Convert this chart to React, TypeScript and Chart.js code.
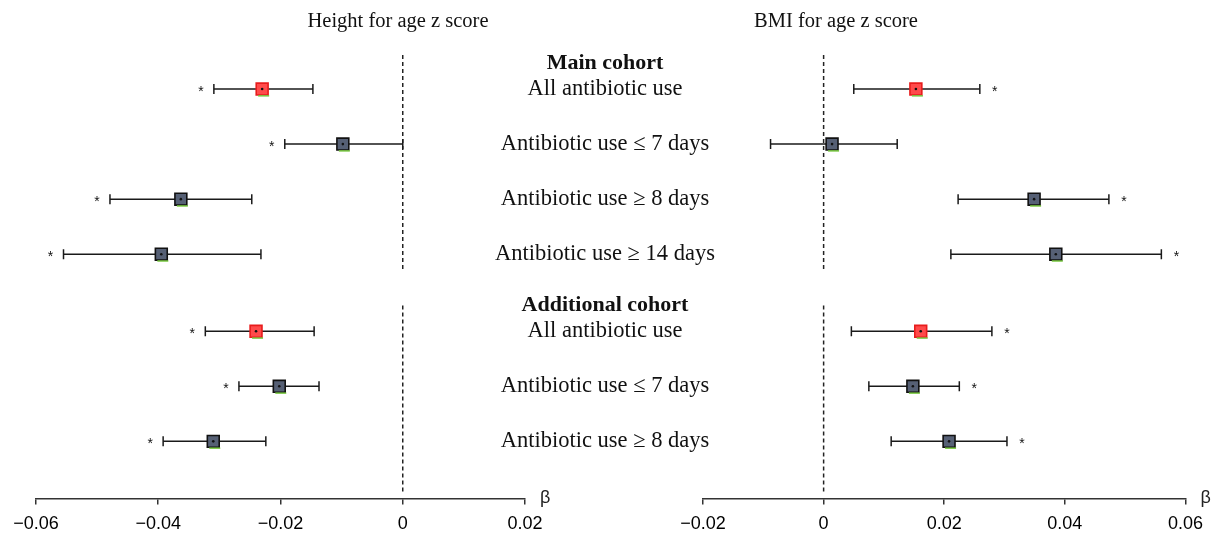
import React, { useEffect, useRef } from "react";
import { Chart, registerables } from "chart.js";
Chart.register(...registerables);

const categories = [
  "All antibiotic use",
  "Antibiotic use ≤ 7 days",
  "Antibiotic use ≥ 8 days",
  "Antibiotic use ≥ 14 days",
  "All antibiotic use",
  "Antibiotic use ≤ 7 days",
  "Antibiotic use ≥ 8 days",
];
const groups = ["Main cohort", "Additional cohort"];
const groupOf = [0, 0, 0, 0, 1, 1, 1];
const isAllUse = [true, false, false, false, true, false, false];

const hazEst = [-0.023, -0.0098, -0.0363, -0.0395, -0.024, -0.0202, -0.031];
const hazLow = [-0.0309, -0.0193, -0.0479, -0.0555, -0.0323, -0.0268, -0.0392];
const hazHigh = [-0.0147, 0.0, -0.0247, -0.0232, -0.0145, -0.0137, -0.0224];
const hazSig = [true, true, true, true, true, true, true];

const bmiEst = [0.0153, 0.0014, 0.0349, 0.0385, 0.0161, 0.0148, 0.0208];
const bmiLow = [0.005, -0.0088, 0.0223, 0.0211, 0.0046, 0.0075, 0.0112];
const bmiHigh = [0.0259, 0.0122, 0.0473, 0.056, 0.0279, 0.0225, 0.0304];
const bmiSig = [true, false, true, true, true, true, true];

const hazTicks = [-0.06, -0.04, -0.02, 0, 0.02];
const hazTickLabels = ["−0.06", "−0.04", "−0.02", "0", "0.02"];
const bmiTicks = [-0.02, 0, 0.02, 0.04, 0.06];
const bmiTickLabels = ["−0.02", "0", "0.02", "0.04", "0.06"];

const titles = ["Height for age z score", "BMI for age z score"];

const W = 1212;
const H = 537;
const GROUP_GAP = 0.4;
const rowPos = (i: number) => i + 1 + groupOf[i] * GROUP_GAP;
const Y_MAX = 8.436;
const zeroSegments = [
  [0.38, 4.3],
  [4.93, 8.36],
];

const SERIF = "'Liberation Serif', 'Times New Roman', serif";
const SANS = "'Liberation Sans', Arial, sans-serif";

function buildConfig(panel: 0 | 1): any {
  const est = panel === 0 ? hazEst : bmiEst;
  const low = panel === 0 ? hazLow : bmiLow;
  const high = panel === 0 ? hazHigh : bmiHigh;
  const sig = panel === 0 ? hazSig : bmiSig;
  const ticks = panel === 0 ? hazTicks : bmiTicks;
  const tickLabels = panel === 0 ? hazTickLabels : bmiTickLabels;

  const datasets: any[] = [];
  // center dots
  datasets.push({
    data: est.map((v, i) => ({ x: v, y: rowPos(i) })),
    pointStyle: "circle",
    pointRadius: 1.3,
    pointBackgroundColor: "#111",
    pointBorderWidth: 0,
    order: 0,
  });
  // markers
  datasets.push({
    data: est.map((v, i) => ({ x: v, y: rowPos(i) })),
    pointStyle: "rect",
    pointRadius: 8.4,
    pointBackgroundColor: est.map((_, i) => (isAllUse[i] ? "#ff4a4a" : "#566075")),
    pointBorderColor: est.map((_, i) => (isAllUse[i] ? "#e81c1c" : "#111111")),
    pointBorderWidth: 1.6,
    order: 1,
  });
  // error bars
  est.forEach((_, i) => {
    datasets.push({
      data: [
        { x: low[i], y: rowPos(i) },
        { x: high[i], y: rowPos(i) },
      ],
      showLine: true,
      borderColor: "#1a1a1a",
      borderWidth: 1.5,
      pointStyle: "line",
      rotation: 90,
      pointRadius: 5,
      pointBorderColor: "#1a1a1a",
      pointBorderWidth: 1.5,
      order: 2,
    });
  });
  // dashed zero line
  zeroSegments.forEach((seg) => {
    datasets.push({
      data: [
        { x: 0, y: seg[0] },
        { x: 0, y: seg[1] },
      ],
      showLine: true,
      borderColor: "#222",
      borderWidth: 1.5,
      borderDash: [4, 3],
      pointRadius: 0,
      order: 3,
    });
  });

  const extrasPlugin = {
    id: "extras" + panel,
    afterDatasetsDraw(chart: any) {
      const { ctx, chartArea, scales } = chart;
      const xs = scales.x;
      const ys = scales.y;
      ctx.save();
      // green shadows under markers
      const meta = chart.getDatasetMeta(1);
      ctx.strokeStyle = "#78c840";
      ctx.lineWidth = 1.5;
      meta.data.forEach((pt: any) => {
        ctx.beginPath();
        ctx.moveTo(pt.x - 4, pt.y + 6.8);
        ctx.lineTo(pt.x + 7, pt.y + 6.8);
        ctx.stroke();
      });
      // asterisks
      ctx.fillStyle = "#111";
      ctx.font = `14px ${SANS}`;
      ctx.textAlign = "center";
      ctx.textBaseline = "middle";
      sig.forEach((s, i) => {
        if (!s) return;
        const y = ys.getPixelForValue(rowPos(i)) + 3;
        const x = panel === 0 ? xs.getPixelForValue(low[i]) - 13 : xs.getPixelForValue(high[i]) + 15;
        ctx.fillText("*", x, y);
      });
      // beta label
      ctx.font = `18px ${SANS}`;
      ctx.fillStyle = "#222";
      ctx.textAlign = "left";
      ctx.fillText("β", chartArea.right + 15, chartArea.bottom);
      // title
      ctx.font = `20.5px ${SERIF}`;
      ctx.fillStyle = "#111";
      ctx.textAlign = "center";
      ctx.fillText(titles[panel], panel === 0 ? 398 : 836, 22);
      // center labels (drawn once)
      if (panel === 0) {
        const cx = 605;
        categories.forEach((c, i) => {
          const y = ys.getPixelForValue(rowPos(i));
          const first = i === 0 || groupOf[i] !== groupOf[i - 1];
          if (first) {
            ctx.font = `bold 22px ${SERIF}`;
            ctx.fillText(groups[groupOf[i]], cx, y - 26);
          }
          ctx.font = `22.5px ${SERIF}`;
          ctx.fillText(c, cx, y);
        });
      }
      ctx.restore();
    },
  };

  return {
    type: "scatter",
    data: { datasets },
    options: {
      animation: false,
      responsive: false,
      events: [],
      layout: {
        padding:
          panel === 0
            ? { left: 36, right: W - 525, top: 34, bottom: -7 }
            : { left: 703, right: W - 1192, top: 34, bottom: -7 },
      },
      plugins: { legend: { display: false }, tooltip: { enabled: false } },
      scales: {
        x: {
          type: "linear",
          min: ticks[0],
          max: ticks[ticks.length - 1],
          afterBuildTicks: (s: any) => {
            s.ticks = ticks.map((v) => ({ value: v }));
          },
          ticks: {
            callback: (_v: any, idx: number) => tickLabels[idx],
            color: "#000",
            font: { family: SANS, size: 18 },
            padding: 9,
            maxRotation: 0,
            autoSkip: false,
          },
          grid: {
            drawOnChartArea: false,
            drawTicks: true,
            tickLength: 6,
            color: "#333",
            lineWidth: 1.5,
          },
          border: { display: true, color: "#333", width: 1.5 },
        },
        y: {
          type: "linear",
          min: 0,
          max: Y_MAX,
          reverse: true,
          display: false,
        },
      },
    },
    plugins: [extrasPlugin],
  };
}

export default function App() {
  const leftRef = useRef<HTMLCanvasElement>(null);
  const rightRef = useRef<HTMLCanvasElement>(null);

  useEffect(() => {
    document.body.style.margin = "0";
    const c1 = new Chart(leftRef.current as HTMLCanvasElement, buildConfig(0));
    const c2 = new Chart(rightRef.current as HTMLCanvasElement, buildConfig(1));
    return () => {
      c1.destroy();
      c2.destroy();
    };
  }, []);

  return (
    <div style={{ position: "relative", width: W, height: H, background: "#fff", overflow: "hidden" }}>
      <canvas
        ref={leftRef}
        width={W}
        height={H}
        style={{ position: "absolute", left: 0, top: 0, width: W, height: H }}
      />
      <canvas
        ref={rightRef}
        width={W}
        height={H}
        style={{ position: "absolute", left: 0, top: 0, width: W, height: H }}
      />
    </div>
  );
}
